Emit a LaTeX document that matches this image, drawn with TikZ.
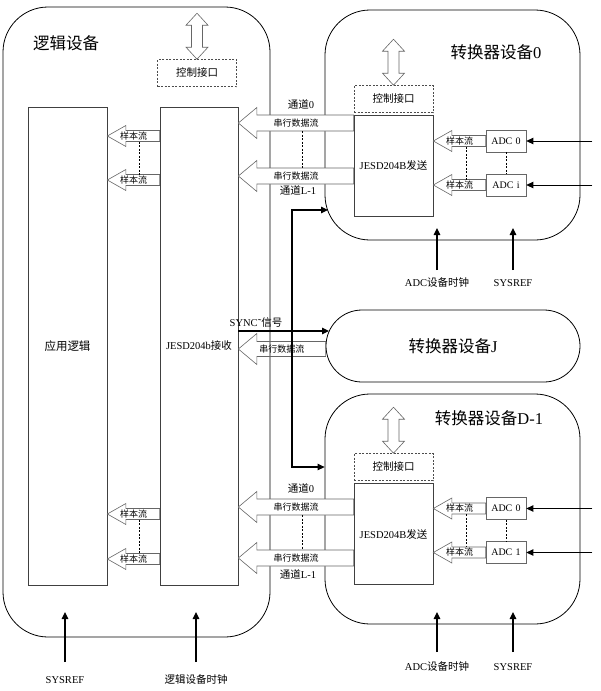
\documentclass[tikz,border=0pt]{standalone}
\usepackage{fontspec}
\setmainfont{Liberation Serif}
\newfontfamily\cjk{Noto Sans CJK SC}
\usetikzlibrary{arrows.meta}

% hollow block arrow: [opts]{name}{tip node}{tail node}{y}{head half}{shaft half}{label}
\newcommand{\blockarrow}[8][fill=white]{%
	\coordinate (t) at (#3 |- 0,#5);
	\coordinate (e) at (#4 |- 0,#5);
	\draw[blk,#1] (t) -- ([xshift=18.5pt,yshift=#6pt]t) -- ([xshift=18.5pt,yshift=#7pt]t)
		-- ([yshift=#7pt]e) -- ([yshift=-#7pt]e)
		-- ([xshift=18.5pt,yshift=-#7pt]t) -- ([xshift=18.5pt,yshift=-#6pt]t) -- cycle;
	\path (t) -- (e) coordinate[midway] (#2) node[midway,lbl] {#8};
}
% double arrow on top of a control box
\newcommand{\ctlarrow}[1]{%
	\draw[blk,fill=white] (#1.north) -- ++(-11,-12) -- ++(5.5,0) -- ++(0,-22) -- ++(-5.5,0)
		-- ++(11,-12) -- ++(11,12) -- ++(-5.5,0) -- ++(0,22) -- ++(5.5,0) -- cycle;
}

\begin{document}
\begin{tikzpicture}[x=1pt, y=-1pt, >={Triangle[length=7pt,width=6.5pt]},
		dev/.style={draw, line width=0.8pt, rounded corners=45pt},
		box/.style={draw=black!75, line width=0.7pt},
		ctlbox/.style={draw=black!70, line width=0.6pt, dash pattern=on 2pt off 1.5pt,
			minimum width=79pt, minimum height=27pt, font=\cjk\fontsize{10.5}{12}\selectfont},
		adcbox/.style={draw=black!60, line width=0.7pt, minimum width=40pt, minimum height=22pt,
			font=\fontsize{10}{11}\selectfont},
		blk/.style={draw=black!60, line width=0.6pt},
		lbl/.style={font=\cjk\fontsize{9}{10}\selectfont, inner sep=0pt},
		title/.style={font=\fontsize{16.5}{18}\selectfont},
		note/.style={font=\fontsize{10.5}{12}\selectfont},
		sig/.style={->, line width=1.2pt},
		inp/.style={->, line width=0.9pt},
		link/.style={dash pattern=on 2pt off 1.5pt, line width=0.6pt}]

	\useasboundingbox (0,0) rectangle (600,691);

	% logic device
	\node[dev, minimum width=267pt, minimum height=630pt] (logic) at (136.5,322) {};
	\node[title] (tlogic) at (66,43) {{\cjk 逻辑设备}};
	\node[box, minimum width=79pt, minimum height=478pt, font=\cjk\fontsize{11.5}{13}\selectfont] (app) at (67.5,346) {应用逻辑};
	\node[box, minimum width=78pt, minimum height=478pt, font=\fontsize{10.5}{12}\selectfont] (rx) at (199,346) {JESD204b{\cjk 接收}};
	\node[ctlbox] (ctlL) at (197,73) {控制接口};

	% converter 0
	\node[dev, minimum width=255pt, minimum height=230pt] (conv0) at (452.5,125) {};
	\node[title] (t0) at (496,52) {{\cjk 转换器设备}0};
	\node[ctlbox] (ctl0) at (393.5,99) {控制接口};
	\node[box, minimum width=79pt, minimum height=101pt, font=\fontsize{10.5}{12}\selectfont] (tx0) at (393.5,165.5) {JESD204B{\cjk 发送}};
	\node[adcbox] (adc00) at (506,141) {ADC\,\,0};
	\node[adcbox] (adc0i) at (506,185) {ADC\,\,i};

	% converter J
	\node[dev, rounded corners=36pt, minimum width=254pt, minimum height=72pt, font=\fontsize{16.5}{18}\selectfont] (convJ) at (453,346) {{\cjk 转换器设备}J};

	% converter D-1
	\node[dev, minimum width=255pt, minimum height=230pt] (convD) at (452.5,509) {};
	\node[title] (tD) at (489,418) {{\cjk 转换器设备}D-1};
	\node[ctlbox] (ctlD) at (393.5,467) {控制接口};
	\node[box, minimum width=79pt, minimum height=101pt, font=\fontsize{10.5}{12}\selectfont] (txD) at (393.5,534) {JESD204B{\cjk 发送}};
	\node[adcbox] (adcD0) at (506,508.5) {ADC\,\,0};
	\node[adcbox] (adcD1) at (506,552.5) {ADC\,\,1};

	\ctlarrow{ctlL}
	\ctlarrow{ctl0}
	\ctlarrow{ctlD}

	% sync bus
	\node[note] (synclbl) at (256,323) {SYNC˜{\cjk 信号}};
	\coordinate (bus) at (292,331);
	\coordinate (s0) at (328,210);
	\coordinate (sJ) at (329,331);
	\blockarrow[fill=none]{dJ}{rx.east}{convJ.west}{349}{15.5}{7.5}{串行数据流}
	\draw[sig] (rx.east |- bus) -- (sJ);
	\draw[sig] (bus) |- (s0);
	\draw[sig] (bus) |- (convD.west |- 0,467);

	% sample streams, logic device
	\blockarrow{sL1}{app.east}{rx.west}{136}{10.5}{5.5}{样本流}
	\blockarrow{sL2}{app.east}{rx.west}{180}{10.5}{5.5}{样本流}
	\blockarrow{sL3}{app.east}{rx.west}{514}{10.5}{5.5}{样本流}
	\blockarrow{sL4}{app.east}{rx.west}{559}{10.5}{5.5}{样本流}
	\draw[link] ([xshift=6pt,yshift=-5.5pt]sL1) -- ([xshift=6pt,yshift=5.5pt]sL2);
	\draw[link] ([xshift=6pt,yshift=-5.5pt]sL3) -- ([xshift=6pt,yshift=5.5pt]sL4);

	% serial lanes
	\blockarrow{d01}{rx.east}{tx0.west}{123}{15.5}{8}{串行数据流}
	\blockarrow{d02}{rx.east}{tx0.west}{176}{15.5}{8}{串行数据流}
	\blockarrow{dD1}{rx.east}{txD.west}{507}{15.5}{8}{串行数据流}
	\blockarrow{dD2}{rx.east}{txD.west}{558}{15.5}{8}{串行数据流}
	\draw[link] ([xshift=6.5pt,yshift=-8pt]d01) -- ([xshift=6.5pt,yshift=8pt]d02);
	\draw[link] ([xshift=6.5pt,yshift=-8pt]dD1) -- ([xshift=6.5pt,yshift=8pt]dD2);
	\node[note] (ch00) at (301,104) {{\cjk 通道}0};
	\node[note] (ch0L) at (298,190) {{\cjk 通道}L-1};
	\node[note] (chD0) at (301,488) {{\cjk 通道}0};
	\node[note] (chDL) at (298,574) {{\cjk 通道}L-1};

	% sample streams, converters
	\blockarrow{s01}{tx0.east}{adc00.west}{141}{10.5}{5.5}{样本流}
	\blockarrow{s02}{tx0.east}{adc0i.west}{185}{10.5}{5.5}{样本流}
	\blockarrow{sD1}{txD.east}{adcD0.west}{508.5}{10.5}{5.5}{样本流}
	\blockarrow{sD2}{txD.east}{adcD1.west}{552.5}{10.5}{5.5}{样本流}
	\draw[link] ([xshift=6.5pt,yshift=-5.5pt]s01) -- ([xshift=6.5pt,yshift=5.5pt]s02);
	\draw[link] ([xshift=6.5pt,yshift=-5.5pt]sD1) -- ([xshift=6.5pt,yshift=5.5pt]sD2);
	\draw[link] (adc00) -- (adc0i);
	\draw[link] (adcD0) -- (adcD1);

	% analog inputs
	\draw[inp] ([xshift=66pt]adc00.east) -- (adc00.east);
	\draw[inp] ([xshift=66pt]adc0i.east) -- (adc0i.east);
	\draw[inp] ([xshift=66pt]adcD0.east) -- (adcD0.east);
	\draw[inp] ([xshift=66pt]adcD1.east) -- (adcD1.east);

	% clocks
	\node[note] (clk0) at (437,283) {ADC{\cjk 设备时钟}};
	\node[note] (ref0) at (513,283) {SYSREF};
	\node[note] (clkD) at (437,667) {ADC{\cjk 设备时钟}};
	\node[note] (refD) at (513,667) {SYSREF};
	\node[note] (refL) at (65,680) {SYSREF};
	\node[note] (clkL) at (196,680) {{\cjk 逻辑设备时钟}};
	\draw[sig] (clk0 |- 0,270) -- (clk0 |- 0,228);
	\draw[sig] (ref0 |- 0,270) -- (ref0 |- 0,228);
	\draw[sig] (clkD |- 0,652) -- (clkD |- 0,612);
	\draw[sig] (refD |- 0,652) -- (refD |- 0,612);
	\draw[sig] (refL |- 0,662) -- (refL |- 0,612);
	\draw[sig] (clkL |- 0,662) -- (clkL |- 0,612);
\end{tikzpicture}
\end{document}
